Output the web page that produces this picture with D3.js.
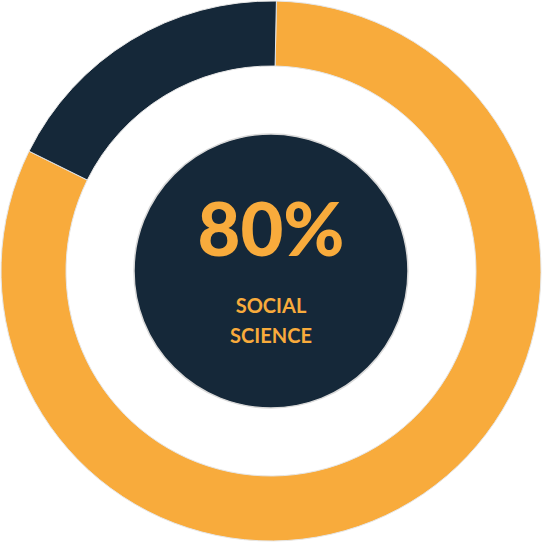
<!DOCTYPE html>
<html><head><meta charset="utf-8">
<script src="https://cdn.jsdelivr.net/npm/d3@7"></script>
<style>body{margin:0;background:#fff}</style></head>
<body><svg id="c" width="543" height="542"></svg>
<script>
const categories = ["Social Science", "Other"];
const values = [82, 18];
const colors = ["#F8AB3C", "#152839"];
const centerLabel = "80%";
const subLabel = ["SOCIAL", "SCIENCE"];

const svg = d3.select("#c");
const g = svg.append("g").attr("transform", "translate(271,271)");
const pie = d3.pie().sort(null).startAngle(0.02).endAngle(0.02 + 2 * Math.PI);
const arc = d3.arc().innerRadius(205).outerRadius(270);
g.selectAll("path").data(pie(values)).join("path")
  .attr("d", arc).attr("fill", (d, i) => colors[i])
  .attr("stroke", "#e6e6e6").attr("stroke-width", 1);
g.append("circle").attr("r", 137).attr("fill", "#152839")
  .attr("stroke", "#d9d9d9").attr("stroke-width", 1.5);
g.append("text").text(centerLabel).attr("text-anchor", "middle").attr("y", -15)
  .attr("fill", "#F8AB3C").attr("font-family", "Lato").attr("font-weight", 900)
  .attr("font-size", 74);
subLabel.forEach((t, i) => g.append("text").text(t).attr("text-anchor", "middle")
  .attr("y", 42 + i * 30).attr("fill", "#F8AB3C").attr("font-family", "Lato")
  .attr("font-weight", 700).attr("font-size", 20));
</script></body></html>
